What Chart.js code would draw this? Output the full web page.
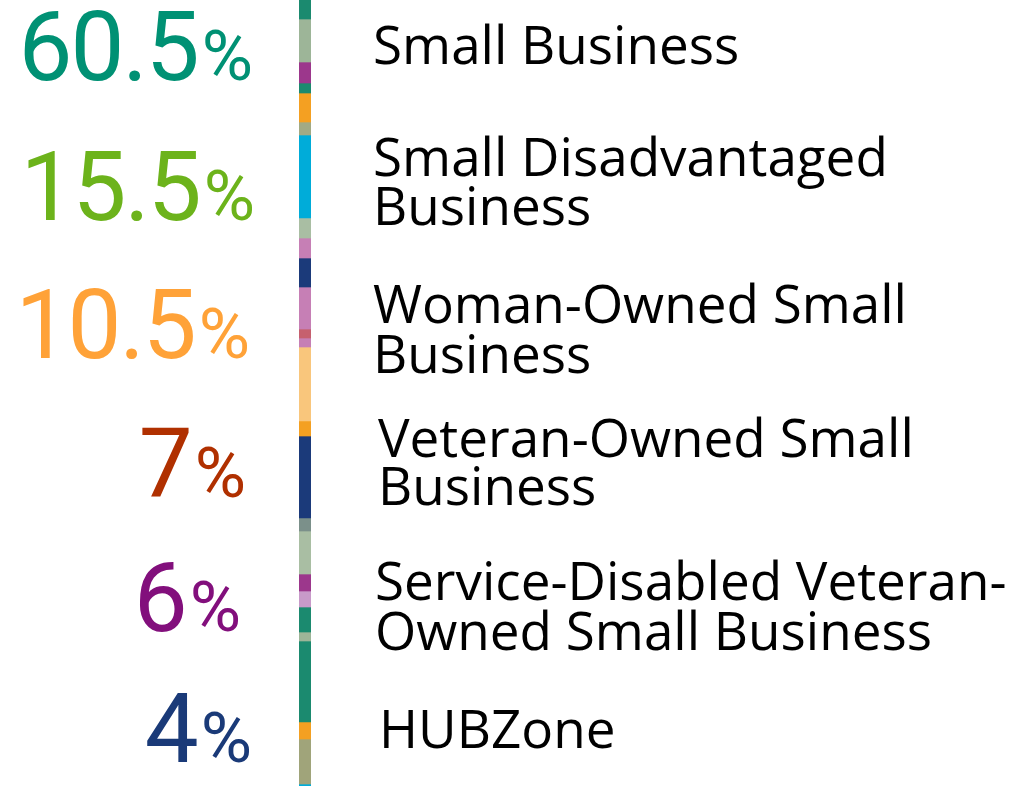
<!DOCTYPE html>
<html>
<head>
<meta charset="utf-8">
<script src="https://cdn.jsdelivr.net/npm/chart.js@4/dist/chart.umd.min.js"></script>
<style>
  html, body { margin:0; padding:0; background:#fff; }
  body { width:1015px; height:786px; position:relative; overflow:hidden; }
  #stripe { position:absolute; left:299px; top:0; }
  .num { position:absolute; white-space:nowrap; font-family:Roboto, "Open Sans", sans-serif; line-height:0.7; text-align:right; }
  .num .big { font-size:96px; font-weight:400; letter-spacing:-2px; }
  .num .pct { font-size:70px; font-weight:400; margin-left:4px; }
  .lab { position:absolute; white-space:nowrap; font-family:"Open Sans", "Noto Sans", sans-serif; font-size:53px; line-height:38px; color:#000; }
  .probe { display:inline-block; width:0; height:0; vertical-align:baseline; }
</style>
</head>
<body>
<canvas id="stripe" width="12" height="786"></canvas>
<script>
// ---- data ----
const categories = ["Small Business", "Small Disadvantaged Business", "Woman-Owned Small Business", "Veteran-Owned Small Business", "Service-Disabled Veteran-Owned Small Business", "HUBZone"];
const labelLines = [["Small Business"], ["Small Disadvantaged", "Business"], ["Woman-Owned Small", "Business"], ["Veteran-Owned Small", "Business"], ["Service-Disabled Veteran-", "Owned Small Business"], ["HUBZone"]];
const percentValues = [60.5, 15.5, 10.5, 7, 6, 4];
const segmentHeights = [19,43,21,10,29,13,83,20,20,29,42,9,9,74,15,82,13,43,17,16,25,9,81,17,45,2];

// ---- styles / positions ----
const percentColors = ["#009174", "#6cb31b", "#ffa238", "#b03000", "#820f7c", "#1a3a78"];
const segmentColors = ["#1b8a6f","#9db598","#9c378c","#1b8a6f","#f4a022","#a2aa84","#00acd9","#a9bea3","#c67fb5","#1b3a7a","#c67fb5","#c6606e","#c67fb5","#f9c67c","#f4a022","#1b3a7a","#7b908a","#a9bea3","#9c378c","#c89ac9","#1b8a6f","#9db598","#1b8a6f","#f4a022","#a0a47a","#00acd9"];
const numRight = [253, 255, 250, 246, 241, 252];
const numBaseline = [80, 220, 358, 497, 631, 762];
const labLeft = [373, 373, 373, 378, 375, 379];
const labBaselines = [[64], [176, 225], [323, 373], [457, 505], [600, 650], [748]];

// ---- stripe chart ----
const total = segmentHeights.reduce((a,b)=>a+b,0);
new Chart(document.getElementById('stripe'), {
  type: 'bar',
  data: {
    labels: ['stripe'],
    datasets: segmentHeights.map((v,i)=>({ data:[v], backgroundColor: segmentColors[i], borderWidth:0, barPercentage:1, categoryPercentage:1, stack:'s' }))
  },
  options: {
    responsive:false, animation:false,
    layout:{ padding:0 },
    plugins:{ legend:{display:false}, tooltip:{enabled:false} },
    scales:{
      x:{ display:false, stacked:true },
      y:{ display:false, stacked:true, reverse:true, min:0, max:total }
    }
  }
});

// ---- text ----
function placeBaseline(el, y) {
  const probe = el.querySelector('.probe');
  const cur = probe.getBoundingClientRect().top;
  el.style.top = (parseFloat(el.style.top) + (y - cur)) + 'px';
}
const items = [];
categories.forEach((c,i)=>{
  const n = document.createElement('div');
  n.className = 'num';
  n.style.color = percentColors[i];
  n.style.top = '0px';
  n.style.right = (1015 - numRight[i]) + 'px';
  n.innerHTML = '<span class="probe"></span><span class="big">' + percentValues[i] + '</span><span class="pct">%</span>';
  document.body.appendChild(n);
  items.push([n, numBaseline[i]]);
  labelLines[i].forEach((line, j)=>{
    const l = document.createElement('div');
    l.className = 'lab';
    l.style.top = '0px';
    l.style.left = labLeft[i] + 'px';
    l.innerHTML = '<span class="probe"></span>' + line;
    document.body.appendChild(l);
    items.push([l, labBaselines[i][j]]);
  });
});
function layoutAll(){ items.forEach(([el,y])=>{ el.style.top='0px'; placeBaseline(el,y); }); }
layoutAll();
if (document.fonts && document.fonts.ready) document.fonts.ready.then(layoutAll);
</script>
</body>
</html>
